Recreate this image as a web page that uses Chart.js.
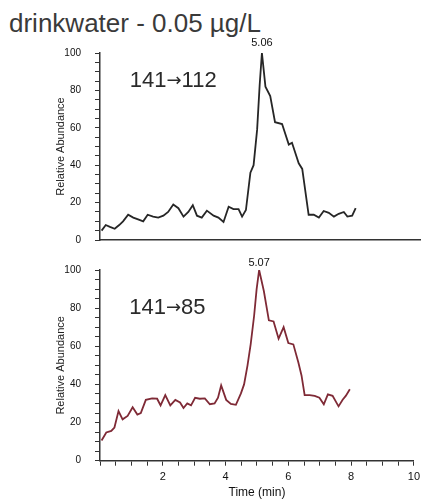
<!DOCTYPE html>
<html lang="en">
<head>
  <meta charset="UTF-8" />
  <title>drinkwater - 0.05 µg/L</title>
  <script src="https://cdn.jsdelivr.net/npm/chart.js@4.4.1/dist/chart.umd.min.js"></script>
  <style>
    body { margin: 0; background: #fff; }
    #page { position: relative; width: 425px; height: 504px; overflow: hidden; }
    #title {
      position: absolute; left: 9px; top: 8px;
      font: 26px "Liberation Sans", Arial, sans-serif; color: #3a3a3a;
      white-space: nowrap;
    }
    .box { position: absolute; left: 0; width: 425px; }
    #topBox { top: 0; height: 260px; }
    #botBox { top: 250px; height: 254px; }
  </style>
</head>
<body>
  <div id="page">
    <div id="title">drinkwater - 0.05 µg/L</div>
    <div class="box" id="topBox"><canvas id="topChart"></canvas></div>
    <div class="box" id="botBox"><canvas id="botChart"></canvas></div>
  </div>

  <script>
    // 141 -> 112 trace (time in min, relative abundance %)
    const topTimes = [0.05, 0.18, 0.31, 0.46, 0.60, 0.72, 0.88, 1.04, 1.19, 1.35, 1.49, 1.66, 1.82, 1.98,
      2.13, 2.29, 2.45, 2.61, 2.76, 2.90, 3.03, 3.18, 3.34, 3.55, 3.70, 3.86, 4.02, 4.17, 4.33, 4.44,
      4.56, 4.70, 4.80, 4.91, 4.99, 5.06, 5.17, 5.32, 5.47, 5.69, 5.90, 6.00, 6.21, 6.32, 6.52, 6.68,
      6.84, 6.99, 7.15, 7.31, 7.46, 7.62, 7.73, 7.88, 7.99];
    const topValues = [5, 8, 7, 6, 8, 10, 13.5, 12, 11, 10, 13.5, 12.5, 12, 13,
      15, 19, 17, 12.5, 15, 18.6, 13, 12, 15.7, 13, 12, 9.6, 17.8, 16.5, 16.5, 12.5,
      16, 36, 40, 59, 83, 100, 82, 77, 63, 62, 51, 52, 41, 38, 13.5, 13.5,
      12, 15.5, 14.5, 12.5, 14, 15, 12.5, 13, 17];

    // 141 -> 85 trace
    const botTimes = [0.05, 0.20, 0.36, 0.46, 0.59, 0.72, 0.88, 1.04, 1.19, 1.30, 1.46, 1.66, 1.82, 1.93,
      2.08, 2.24, 2.40, 2.55, 2.66, 2.78, 2.90, 3.03, 3.18, 3.34, 3.50, 3.65, 3.76, 3.86, 4.02, 4.17,
      4.33, 4.49, 4.59, 4.70, 4.80, 4.91, 4.99, 5.07, 5.22, 5.38, 5.53, 5.69, 5.85, 6.00, 6.16, 6.32,
      6.42, 6.52, 6.68, 6.84, 6.99, 7.13, 7.26, 7.41, 7.60, 7.73, 7.83, 7.96];
    const botValues = [10.6, 14.8, 15.6, 17.4, 26, 21.7, 23.5, 28, 24.2, 25, 31.9, 32.7, 32.5, 29,
      34.4, 29, 31.9, 30.5, 27.6, 30, 29, 33, 32.5, 32.7, 29.6, 30, 33, 39.5, 31.9, 29.8,
      29.3, 35.3, 40, 50, 61, 76, 90, 100, 89, 73.6, 73, 64, 70, 61.7, 61, 51.5,
      44.7, 34.4, 34.4, 34, 33, 29.6, 34.8, 34, 28.5, 32, 34, 37.5];

    const topTransition = ["141", "\u2192", "112"];
    const botTransition = ["141", "\u2192", "85"];
    const topPeak = { time: 5.06, label: "5.06" };
    const botPeak = { time: 5.07, label: "5.07" };
    const xLabels = [2, 4, 6, 8, 10];
    const yLabels = [0, 20, 40, 60, 80, 100];
    const yTitle = "Relative Abundance";
    const xTitle = "Time (min)";

    const FONT = '"Liberation Sans", Arial, sans-serif';

    // draws the transition text and the retention time over the peak
    const textMarks = {
      id: 'textMarks',
      afterDatasetsDraw(chart, args, opts) {
        const { ctx, scales: { x, y } } = chart;
        ctx.save();
        ctx.fillStyle = '#2a2a2a';
        ctx.textAlign = 'left';
        ctx.textBaseline = 'alphabetic';
        let px = x.getPixelForValue(0.93);
        const py = y.getPixelForValue(opts.ty);
        opts.transition.forEach((part) => {
          // the arrow glyph is taken from DejaVu, which has a long one
          ctx.font = part === '\u2192' ? '18px "DejaVu Sans"' : '22px ' + FONT;
          ctx.fillText(part, px, py - (part === '\u2192' ? 1 : 0));
          px += ctx.measureText(part).width;
        });
        ctx.fillStyle = '#111';
        ctx.font = '11px ' + FONT;
        ctx.textAlign = 'center';
        ctx.textBaseline = 'bottom';
        ctx.fillText(opts.peak.label, x.getPixelForValue(opts.peak.time), y.getPixelForValue(100) - opts.gap);
        ctx.restore();
      }
    };

    function makeChart(id, times, values, color, cfg) {
      const points = times.map((t, i) => ({ x: t, y: values[i] }));
      return new Chart(document.getElementById(id), {
        type: 'line',
        data: {
          datasets: [{
            data: points,
            borderColor: color,
            borderWidth: 1.8,
            pointRadius: 0,
            tension: 0,
          }],
        },
        options: {
          responsive: true,
          maintainAspectRatio: false,
          animation: false,
          events: [],
          layout: { padding: { top: cfg.padTop, right: 5, left: 0, bottom: 0 } },
          plugins: {
            legend: { display: false },
            tooltip: { enabled: false },
            textMarks: { transition: cfg.transition, ty: cfg.ty, peak: cfg.peak, gap: cfg.gap },
          },
          scales: {
            x: {
              type: 'linear',
              min: 0,
              max: 10,
              afterFit: (s) => { s.height = cfg.xHeight; },
              border: { display: true, color: '#333', width: 1.5 },
              grid: { drawOnChartArea: false, drawTicks: cfg.showX, tickLength: 5, color: '#333' },
              ticks: {
                display: cfg.showX,
                stepSize: 0.5,
                maxTicksLimit: 100,
                autoSkip: false,
                maxRotation: 0,
                padding: 5,
                color: '#111',
                font: { family: FONT, size: 11 },
                callback: (v) => (xLabels.includes(v) ? String(v) : ''),
              },
              title: {
                display: cfg.showX,
                text: xTitle,
                color: '#111',
                font: { family: FONT, size: 12 },
                padding: { top: 0, bottom: 4 },
              },
            },
            y: {
              min: 0,
              max: 100,
              afterFit: (s) => { s.width = 100; },
              border: { display: true, color: '#333', width: 1.5 },
              grid: { drawOnChartArea: false, tickLength: 5, color: '#333' },
              ticks: {
                stepSize: 5,
                maxTicksLimit: 100,
                autoSkip: false,
                padding: 14,
                color: '#111',
                font: { family: FONT, size: 10 },
                callback: (v) => (yLabels.includes(v) ? String(v) : ''),
              },
              title: {
                display: true,
                text: yTitle,
                color: '#222',
                font: { family: FONT, size: 11 },
                padding: { top: 54, bottom: 0 },
              },
            },
          },
        },
        plugins: [textMarks],
      });
    }

    makeChart('topChart', topTimes, topValues, '#262626', {
      padTop: 53, xHeight: 12, showX: false,
      transition: topTransition, ty: 82, peak: topPeak, gap: 5,
    });
    makeChart('botChart', botTimes, botValues, '#7f2a36', {
      padTop: 15, xHeight: 43.3, showX: true,
      transition: botTransition, ty: 77, peak: botPeak, gap: 2,
    });
  </script>
</body>
</html>
